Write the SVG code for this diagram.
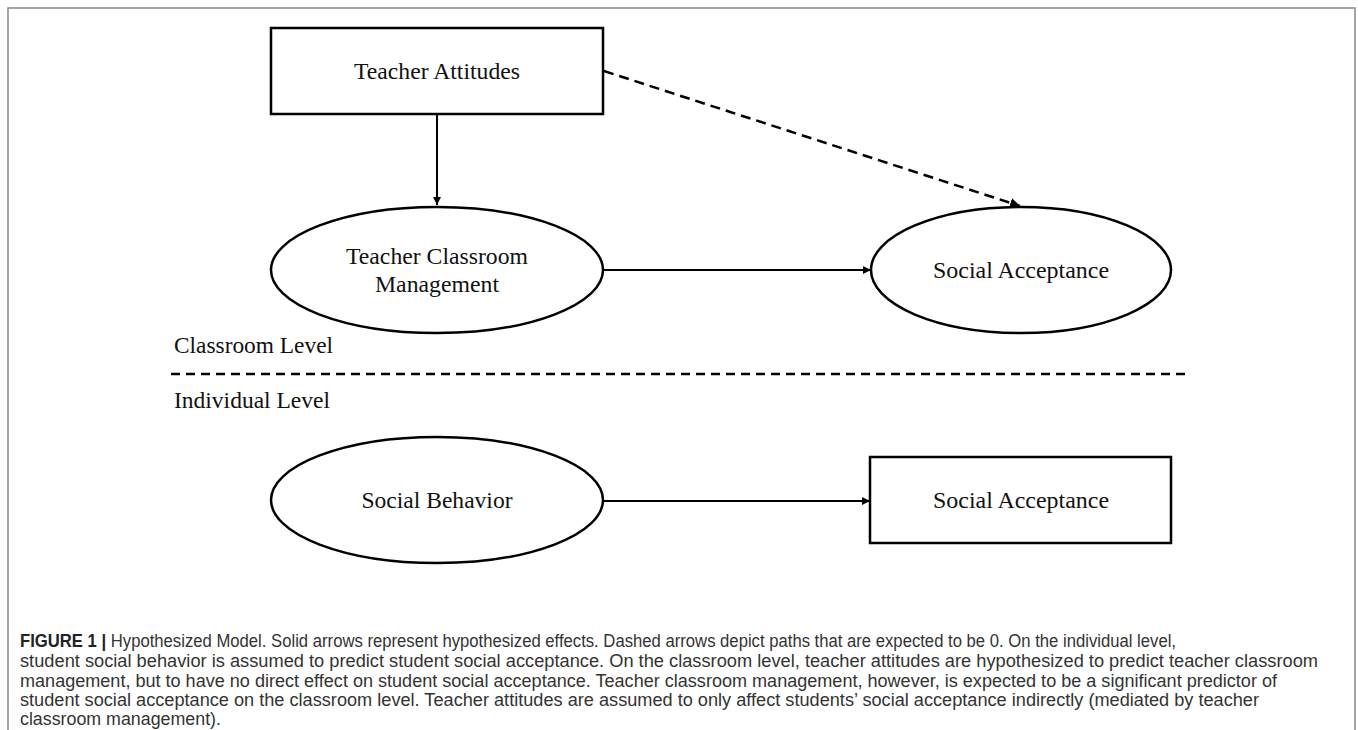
<svg xmlns="http://www.w3.org/2000/svg" width="1358" height="730" viewBox="0 0 1358 730">
<defs>
<marker id="ah" viewBox="0 0 10 10" refX="10" refY="5" markerWidth="4" markerHeight="4" orient="auto" markerUnits="strokeWidth">
<path d="M0,0 L10,5 L0,10 z" fill="#000"/>
</marker>
<style>
.shape{fill:#fff;stroke:#000;stroke-width:2.5}
.lbl{font-family:"Liberation Serif","Times New Roman",serif;font-size:24px;fill:#111;text-anchor:middle}
.lvl{font-family:"Liberation Serif","Times New Roman",serif;font-size:24px;fill:#111}
.conn{stroke:#000;stroke-width:2;fill:none}
.dash{stroke:#000;stroke-width:2.5;fill:none;stroke-dasharray:10 6}
.cap{font-family:"Liberation Sans",Arial,sans-serif;font-size:17.5px;fill:#333}
</style>
</defs>
<rect x="8" y="8" width="1347" height="740" fill="#fff" stroke="#888" stroke-width="1.5"/>
<g id="connectors">
<line class="conn" x1="437" y1="114" x2="437" y2="205" marker-end="url(#ah)"/>
<line class="conn" x1="603" y1="270" x2="871" y2="270" marker-end="url(#ah)"/>
<line class="dash" x1="604" y1="71" x2="1020" y2="206" marker-end="url(#ah)"/>
<line class="conn" x1="603" y1="501" x2="870" y2="501" marker-end="url(#ah)"/>
</g>
<g id="separator">
<line x1="171" y1="374" x2="1185" y2="374" stroke="#000" stroke-width="2.5" stroke-dasharray="9 6"/>
</g>
<g id="teacher-attitudes">
<rect class="shape" x="271" y="28" width="332" height="86"/>
<text class="lbl" x="437" y="79" textLength="166" lengthAdjust="spacingAndGlyphs">Teacher Attitudes</text>
</g>
<g id="teacher-classroom-management">
<ellipse class="shape" cx="437" cy="270" rx="166" ry="63"/>
<text class="lbl" x="437" y="264" textLength="182" lengthAdjust="spacingAndGlyphs">Teacher Classroom</text>
<text class="lbl" x="437" y="292" textLength="124" lengthAdjust="spacingAndGlyphs">Management</text>
</g>
<g id="social-acceptance-classroom">
<ellipse class="shape" cx="1021" cy="270" rx="150" ry="63"/>
<text class="lbl" x="1021" y="278" textLength="176" lengthAdjust="spacingAndGlyphs">Social Acceptance</text>
</g>
<g id="levels">
<text class="lvl" x="174" y="353" textLength="159" lengthAdjust="spacingAndGlyphs">Classroom Level</text>
<text class="lvl" x="174" y="408" textLength="156" lengthAdjust="spacingAndGlyphs">Individual Level</text>
</g>
<g id="social-behavior">
<ellipse class="shape" cx="437" cy="500" rx="166" ry="63"/>
<text class="lbl" x="437" y="508" textLength="151" lengthAdjust="spacingAndGlyphs">Social Behavior</text>
</g>
<g id="social-acceptance-individual">
<rect class="shape" x="870" y="457" width="301" height="86"/>
<text class="lbl" x="1021" y="508" textLength="176" lengthAdjust="spacingAndGlyphs">Social Acceptance</text>
</g>
<g id="caption">
<text class="cap" x="20" y="647" textLength="1156" lengthAdjust="spacingAndGlyphs"><tspan font-weight="bold" fill="#222">FIGURE 1 |</tspan> Hypothesized Model. Solid arrows represent hypothesized effects. Dashed arrows depict paths that are expected to be 0. On the individual level,</text>
<text class="cap" x="20" y="667" textLength="1298" lengthAdjust="spacingAndGlyphs">student social behavior is assumed to predict student social acceptance. On the classroom level, teacher attitudes are hypothesized to predict teacher classroom</text>
<text class="cap" x="20" y="687" textLength="1257" lengthAdjust="spacingAndGlyphs">management, but to have no direct effect on student social acceptance. Teacher classroom management, however, is expected to be a significant predictor of</text>
<text class="cap" x="20" y="706" textLength="1239" lengthAdjust="spacingAndGlyphs">student social acceptance on the classroom level. Teacher attitudes are assumed to only affect students’ social acceptance indirectly (mediated by teacher</text>
<text class="cap" x="20" y="725" textLength="201" lengthAdjust="spacingAndGlyphs">classroom management).</text>
</g>
</svg>
